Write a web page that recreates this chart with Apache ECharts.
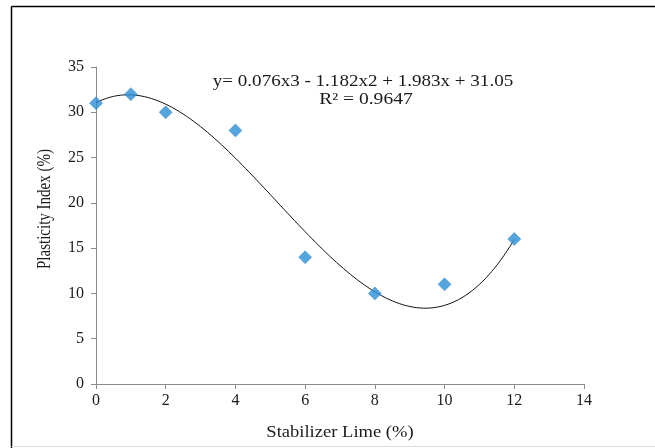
<!DOCTYPE html>
<html>
<head>
<meta charset="utf-8">
<script src="https://cdn.jsdelivr.net/npm/echarts@6/dist/echarts.min.js"></script>
<style>
  html, body { margin: 0; padding: 0; background: #fff; }
  #chart { width: 655px; height: 448px; }
</style>
</head>
<body>
<div id="chart"></div>
<script>
// Measured plasticity index against lime content
const limeContent = [0, 1, 2, 4, 6, 8, 10, 12];
const plasticityIndex = [31, 32, 30, 28, 14, 10, 11, 16];

// Cubic trendline coefficients (highest power first) and its fit quality
const trendCoefficients = [0.076, -1.182, 1.983, 31.05];
const trendLabel = 'y= 0.076x3 - 1.182x2 + 1.983x + 31.05';
const rSquaredLabel = 'R² = 0.9647';
const xAxisTitle = 'Stabilizer Lime (%)';
const yAxisTitle = 'Plasticity Index (%)';

const xTicks = { min: 0, max: 14, interval: 2 };
const yTicks = { min: 0, max: 35, interval: 5 };

// Sample the fitted polynomial across the measured range
function polyValue(c, x) {
  return c.reduce((acc, k) => acc * x + k, 0);
}
const trendPoints = [];
for (let i = 0; i <= 240; i++) {
  const x = 12 * i / 240;
  trendPoints.push([x, polyValue(trendCoefficients, x)]);
}

const chart = echarts.init(document.getElementById('chart'), null, { renderer: 'canvas' });
const serif = '"Liberation Serif", "Times New Roman", serif';
const axisGray = '#8c8c8c';
const textColor = '#1a1a1a';

chart.setOption({
  animation: false,
  backgroundColor: '#ffffff',
  grid: { left: 96, right: 71, top: 67, bottom: 64, containLabel: false },
  xAxis: {
    type: 'value',
    min: xTicks.min, max: xTicks.max, interval: xTicks.interval,
    axisLine: { show: true, lineStyle: { color: axisGray, width: 1 } },
    axisTick: { show: true, length: 5, lineStyle: { color: axisGray } },
    axisLabel: { fontFamily: serif, fontSize: 16, color: textColor, margin: 9 },
    splitLine: { show: false }
  },
  yAxis: {
    type: 'value',
    min: yTicks.min, max: yTicks.max, interval: yTicks.interval,
    axisLine: { show: true, lineStyle: { color: axisGray, width: 1 } },
    axisTick: { show: true, length: 5, lineStyle: { color: axisGray } },
    axisLabel: { fontFamily: serif, fontSize: 16, color: textColor, margin: 12 },
    splitLine: { show: false }
  },
  series: [
    {
      type: 'line',
      data: trendPoints,
      showSymbol: false,
      symbol: 'none',
      smooth: false,
      lineStyle: { color: '#111', width: 1 },
      z: 2
    },
    {
      type: 'scatter',
      data: limeContent.map((x, i) => [x, plasticityIndex[i]]),
      symbol: 'diamond',
      symbolSize: [13, 13],
      itemStyle: { color: '#2a8fd6', borderColor: '#1b78bf', borderWidth: 0.5 },
      z: 3
    }
  ],
  graphic: [
    // frame lines
    { type: 'line', shape: { x1: 11.5, y1: 6.5, x2: 655, y2: 6.5 }, style: { stroke: '#000', lineWidth: 1.5 } },
    { type: 'line', shape: { x1: 11.5, y1: 6.5, x2: 11.5, y2: 448 }, style: { stroke: '#000', lineWidth: 1.5 } },
    { type: 'line', shape: { x1: 11.5, y1: 446.5, x2: 655, y2: 446.5 }, style: { stroke: '#dddddd', lineWidth: 1 } },
    // trendline equation and R²
    {
      type: 'text', x: 363, y: 82, scaleX: 1.19,
      style: { text: trendLabel, x: 0, y: 0, fontFamily: serif, fontSize: 16, fill: textColor,
               textAlign: 'center', textVerticalAlign: 'middle' }
    },
    {
      type: 'text', x: 366, y: 100, scaleX: 1.22,
      style: { text: rSquaredLabel, x: 0, y: 0, fontFamily: serif, fontSize: 16, fill: textColor,
               textAlign: 'center', textVerticalAlign: 'middle' }
    },
    // axis titles
    {
      type: 'text', x: 340, y: 433, scaleX: 1.16,
      style: { text: xAxisTitle, x: 0, y: 0, fontFamily: serif, fontSize: 16, fill: textColor,
               textAlign: 'center', textVerticalAlign: 'middle' }
    },
    {
      type: 'text', x: 45, y: 209, rotation: Math.PI / 2, scaleY: 1.2,
      style: { text: yAxisTitle, x: 0, y: 0, fontFamily: serif, fontSize: 15, fill: textColor,
               textAlign: 'center', textVerticalAlign: 'middle' }
    }
  ]
});
</script>
</body>
</html>
